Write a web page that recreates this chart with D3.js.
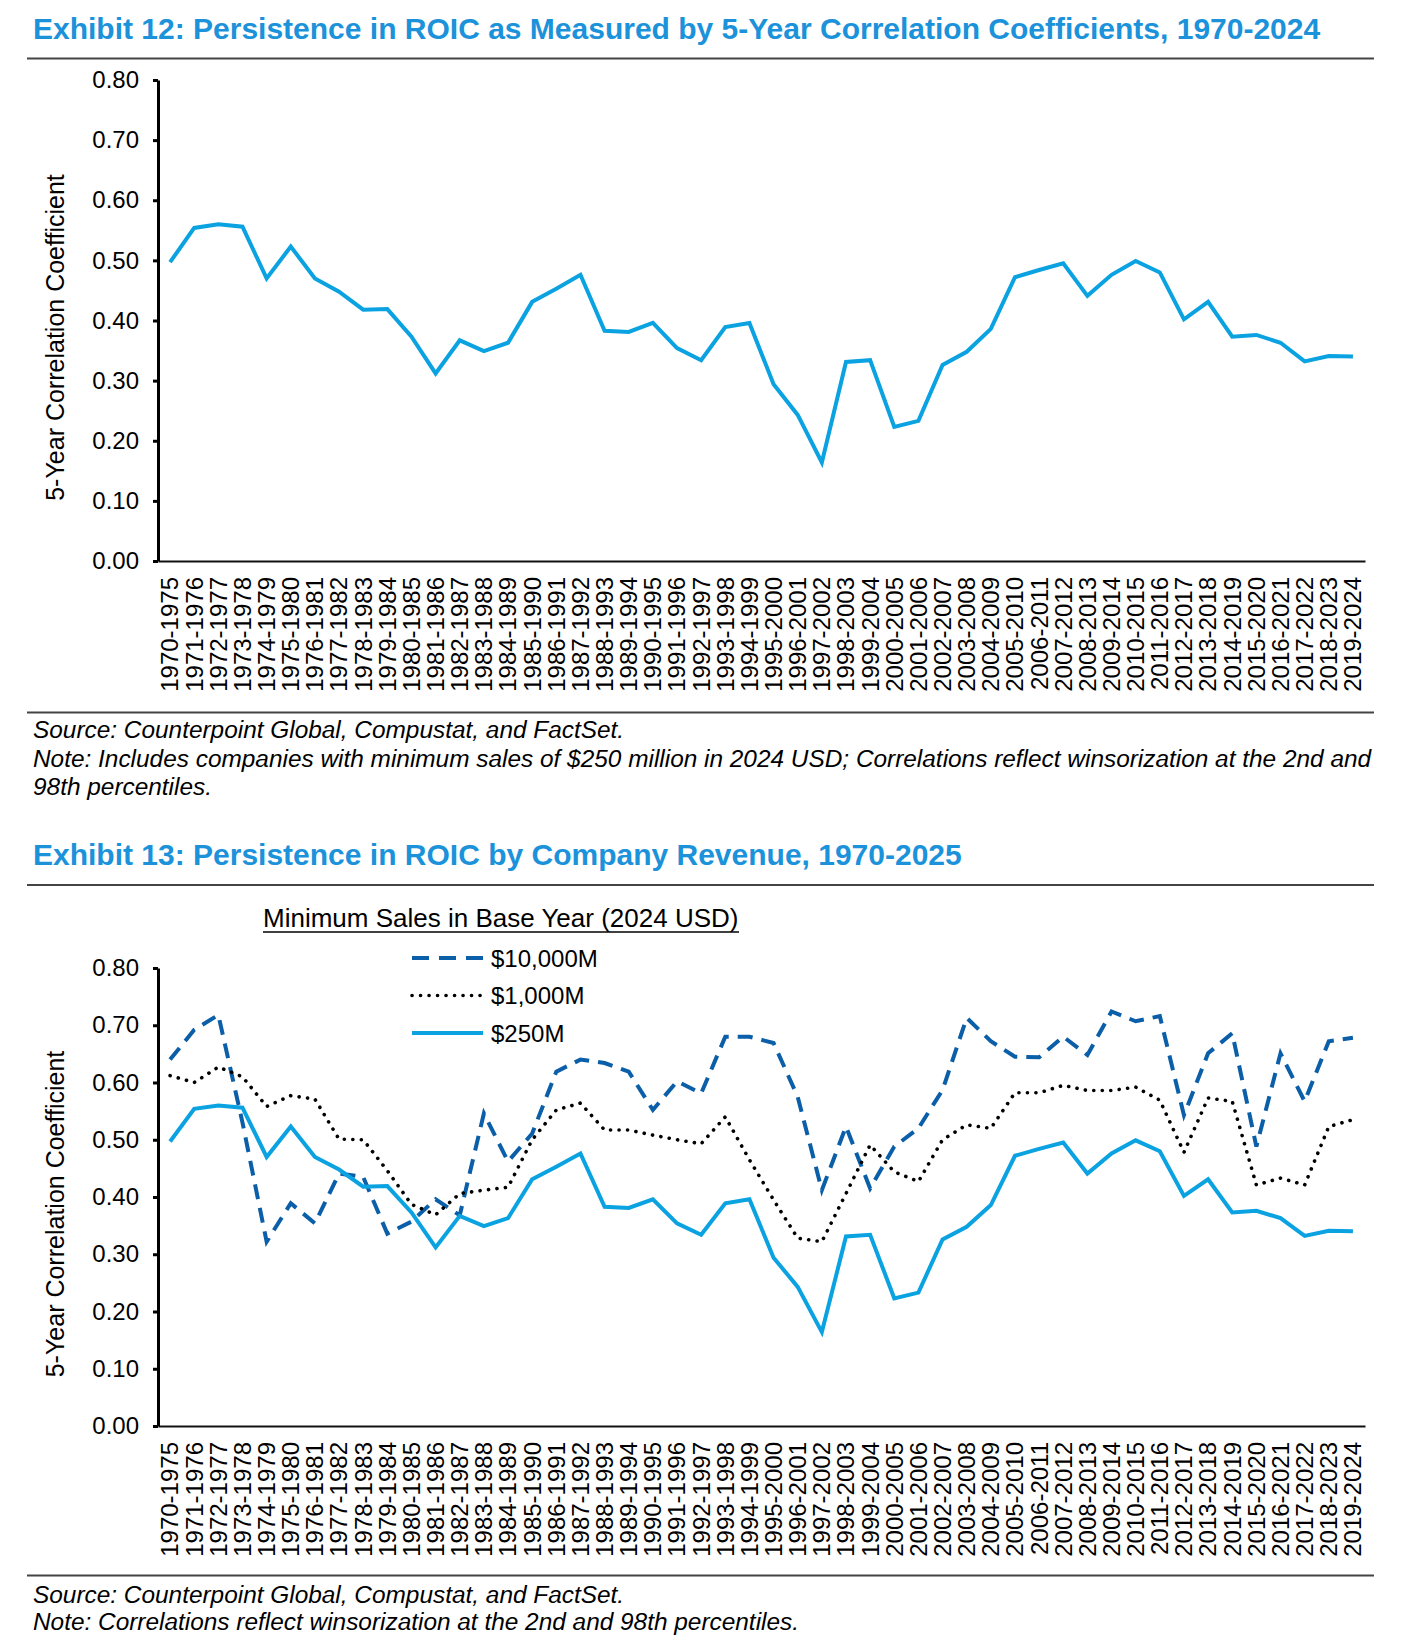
<!DOCTYPE html>
<html>
<head>
<meta charset="utf-8">
<script src="https://cdn.jsdelivr.net/npm/d3@7"></script>
<style>
	body { margin: 0; background: #fff; }
	svg { display: block; font-family: 'Liberation Sans', Arial, sans-serif; }
</style>
</head>
<body>
<svg id="chart"></svg>
<script>
const w = 1401;
const h = 1644;

// 5-year windows
const periods = [
	'1970-1975', '1971-1976', '1972-1977', '1973-1978', '1974-1979', '1975-1980', '1976-1981', '1977-1982',
	'1978-1983', '1979-1984', '1980-1985', '1981-1986', '1982-1987', '1983-1988', '1984-1989', '1985-1990',
	'1986-1991', '1987-1992', '1988-1993', '1989-1994', '1990-1995', '1991-1996', '1992-1997', '1993-1998',
	'1994-1999', '1995-2000', '1996-2001', '1997-2002', '1998-2003', '1999-2004', '2000-2005', '2001-2006',
	'2002-2007', '2003-2008', '2004-2009', '2005-2010', '2006-2011', '2007-2012', '2008-2013', '2009-2014',
	'2010-2015', '2011-2016', '2012-2017', '2013-2018', '2014-2019', '2015-2020', '2016-2021', '2017-2022',
	'2018-2023', '2019-2024'
];

// $250M minimum sales (Exhibit 12 and solid line of Exhibit 13)
const roic250 = [
	0.497, 0.554, 0.560, 0.556, 0.470, 0.523, 0.470, 0.448, 0.418, 0.419,
	0.373, 0.312, 0.367, 0.349, 0.363, 0.431, 0.453, 0.476, 0.383, 0.381,
	0.396, 0.354, 0.334, 0.389, 0.396, 0.294, 0.243, 0.164, 0.331, 0.334,
	0.223, 0.233, 0.326, 0.348, 0.386, 0.472, 0.484, 0.495, 0.441, 0.476,
	0.499, 0.480, 0.402, 0.431, 0.373, 0.376, 0.363, 0.332, 0.341, 0.340
];

// $10,000M minimum sales
const roic10000 = [
	0.640, 0.692, 0.718, 0.530, 0.322, 0.389, 0.354, 0.441, 0.435, 0.336,
	0.357, 0.396, 0.368, 0.546, 0.462, 0.511, 0.619, 0.640, 0.634, 0.619,
	0.552, 0.602, 0.581, 0.680, 0.680, 0.669, 0.575, 0.412, 0.523, 0.415,
	0.488, 0.520, 0.587, 0.713, 0.672, 0.645, 0.644, 0.680, 0.648, 0.724,
	0.707, 0.716, 0.543, 0.651, 0.686, 0.488, 0.651, 0.567, 0.672, 0.678
];

// $1,000M minimum sales
const roic1000 = [
	0.612, 0.600, 0.627, 0.610, 0.558, 0.577, 0.571, 0.501, 0.500, 0.446,
	0.387, 0.369, 0.406, 0.412, 0.417, 0.500, 0.552, 0.564, 0.517, 0.517,
	0.508, 0.500, 0.493, 0.540, 0.465, 0.395, 0.328, 0.322, 0.406, 0.491,
	0.444, 0.427, 0.500, 0.526, 0.520, 0.582, 0.582, 0.595, 0.586, 0.586,
	0.592, 0.569, 0.478, 0.573, 0.567, 0.421, 0.433, 0.421, 0.523, 0.535
];

const yTicks = [0, 0.1, 0.2, 0.3, 0.4, 0.5, 0.6, 0.7, 0.8];
const legendTitle = 'Minimum Sales in Base Year (2024 USD)';
const seriesNames = ['$10,000M', '$1,000M', '$250M'];

const blue = '#1b92da';
const lightBlue = '#0aa2e0';
const darkBlue = '#0b5ea8';

const styles = {
	'$10,000M': { color: darkBlue, dash: '15,9', cap: 'butt', width: 4 },
	'$1,000M': { color: '#000', dash: '0.1,8.4', cap: 'round', width: 3.6 },
	'$250M': { color: lightBlue, dash: null, cap: 'butt', width: 4 },
};

const plotLeft = 158;
const plotRight = 1365;

let canvas = d3.select('#chart').attr('width', w).attr('height', h);

const drawRule = (y) => {
	canvas
		.append('line')
		.attr('x1', 27)
		.attr('x2', 1374)
		.attr('y1', y)
		.attr('y2', y)
		.attr('stroke', '#444')
		.attr('stroke-width', 2);
};

const drawText = (txt, x, y, opts = {}) => {
	canvas
		.append('text')
		.attr('x', x)
		.attr('y', y)
		.attr('font-size', opts.size || 24)
		.attr('font-weight', opts.bold ? 'bold' : 'normal')
		.attr('font-style', opts.italic ? 'italic' : 'normal')
		.attr('fill', opts.color || '#000')
		.text(txt);
};

const drawChart = (top, bottom, series) => {
	let xScale = d3.scaleBand().domain(periods).range([plotLeft, plotRight]).paddingInner(0).paddingOuter(0);
	let yScale = d3.scaleLinear().domain([0, 0.8]).range([bottom, top]);
	const xc = (p) => xScale(p) + xScale.bandwidth() / 2;

	let g = canvas.append('g');

	// x axis: plain line, rotated period labels
	let xAxis = d3.axisBottom(xScale).tickSize(0).tickSizeOuter(0);
	let xg = g.append('g').attr('transform', `translate(0, ${bottom})`).call(xAxis);
	xg.select('.domain').attr('stroke', '#111').attr('stroke-width', 2);
	xg.selectAll('text')
		.attr('font-size', 24)
		.attr('font-family', 'Liberation Sans, Arial, sans-serif')
		.attr('fill', '#000')
		.attr('text-anchor', 'end')
		.attr('transform', 'rotate(-90)')
		.attr('x', -16)
		.attr('y', 0)
		.attr('dy', '0.35em');

	// y axis
	let yAxis = d3.axisLeft(yScale).tickValues(yTicks).tickFormat(d3.format('.2f')).tickSize(5).tickSizeOuter(0).tickPadding(14);
	let yg = g.append('g').attr('transform', `translate(${plotLeft}, 0)`).call(yAxis);
	yg.select('.domain').attr('stroke', '#000').attr('stroke-width', 3);
	yg.selectAll('.tick line').attr('stroke', '#000').attr('stroke-width', 3);
	yg.selectAll('text')
		.attr('font-size', 24)
		.attr('font-family', 'Liberation Sans, Arial, sans-serif')
		.attr('fill', '#000');

	g.append('text')
		.attr('transform', `translate(64, ${(top + bottom) / 2 + 17}) rotate(-90)`)
		.attr('text-anchor', 'middle')
		.attr('font-size', 25)
		.text('5-Year Correlation Coefficient');

	let line = d3
		.line()
		.x((d, i) => xc(periods[i]))
		.y((d) => yScale(d));

	series.forEach((s) => {
		const st = styles[s.name];
		g.append('path')
			.datum(s.values)
			.attr('d', line)
			.attr('fill', 'none')
			.attr('stroke', st.color)
			.attr('stroke-width', st.width)
			.attr('stroke-linejoin', 'miter')
			.attr('stroke-linecap', st.cap)
			.attr('stroke-dasharray', st.dash);
	});
};

// ---- Exhibit 12 ----
drawText('Exhibit 12: Persistence in ROIC as Measured by 5-Year Correlation Coefficients, 1970-2024', 33, 39, {
	size: 30,
	bold: true,
	color: blue,
});
drawRule(58.5);
drawChart(80, 561, [{ name: '$250M', values: roic250 }]);
drawRule(712.5);
drawText('Source: Counterpoint Global, Compustat, and FactSet.', 33, 738, { italic: true, size: 24.4 });
drawText(
	'Note: Includes companies with minimum sales of $250 million in 2024 USD; Correlations reflect winsorization at the 2nd and',
	33,
	767,
	{ italic: true, size: 24.4 }
);
drawText('98th percentiles.', 33, 795, { italic: true, size: 24.4 });

// ---- Exhibit 13 ----
drawText('Exhibit 13: Persistence in ROIC by Company Revenue, 1970-2025', 33, 865, { size: 30, bold: true, color: blue });
drawRule(885);
drawChart(968, 1426, [
	{ name: '$10,000M', values: roic10000 },
	{ name: '$1,000M', values: roic1000 },
	{ name: '$250M', values: roic250 },
]);

// legend
drawText(legendTitle, 263, 927, { size: 26 });
canvas.append('line').attr('x1', 263).attr('x2', 739).attr('y1', 932).attr('y2', 932).attr('stroke', '#000').attr('stroke-width', 1.5);
seriesNames.forEach((name, i) => {
	const st = styles[name];
	const y = 958 + i * 37.5;
	canvas
		.append('line')
		.attr('x1', 412)
		.attr('x2', 483)
		.attr('y1', y)
		.attr('y2', y)
		.attr('stroke', st.color)
		.attr('stroke-width', st.width)
		.attr('stroke-linecap', st.cap)
		.attr('stroke-dasharray', name === '$10,000M' ? '17,10' : st.dash);
	drawText(name, 491, y + 8.5);
});

drawRule(1575.5);
drawText('Source: Counterpoint Global, Compustat, and FactSet.', 33, 1602.5, { italic: true, size: 24.4 });
drawText('Note: Correlations reflect winsorization at the 2nd and 98th percentiles.', 33, 1630, { italic: true, size: 24.4 });
</script>
</body>
</html>
